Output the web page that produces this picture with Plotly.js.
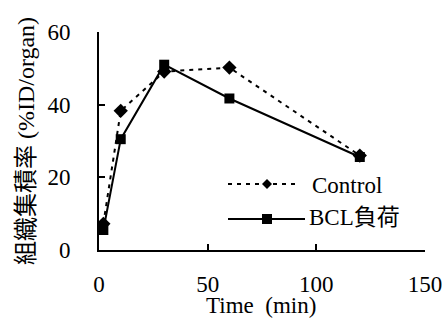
<!DOCTYPE html>
<html><head><meta charset="utf-8">
<script src="https://cdn.plot.ly/plotly-3.0.1.min.js"></script>
<style>html,body{margin:0;padding:0;background:#fff}#c{width:446px;height:327px}</style>
</head><body><div id="c"></div>
<script>
const time = [2, 10, 30, 60, 120];
const control = [7.2, 38.3, 49.1, 50.2, 26.0];
const bcl = [5.5, 30.5, 51.0, 41.7, 25.6];
const seriesNames = ["Control", "BCL負荷"];
const xTicks = [0, 50, 100, 150];
const yTicks = [0, 20, 40, 60];
const xTitle = "Time\u00a0 (min)";
const yTitle = "組織集積率 (%ID/organ)";

const FONT = "Liberation Serif, Noto Sans CJK JP";
const FS = 23;

const traces = [
  {x: time, y: control, name: seriesNames[0], mode: "lines+markers", showlegend: false,
   line: {color: "#000", width: 2, dash: "4px,5px"},
   marker: {symbol: "diamond", size: 11, color: "#000"}},
  {x: time, y: bcl, name: seriesNames[1], mode: "lines+markers", showlegend: false,
   line: {color: "#000", width: 2},
   marker: {symbol: "square", size: 10, color: "#000"}}
];

const W = 446, H = 327, L = 99, R = 21, T = 32, B = 77;
const pw = W - L - R, ph = H - T - B;
const px = v => (v - L) / pw;
const py = v => (H - B - v) / ph;

function diamondPath(cx, cy, r) {
  return `M ${px(cx)} ${py(cy - r)} L ${px(cx + r)} ${py(cy)} L ${px(cx)} ${py(cy + r)} L ${px(cx - r)} ${py(cy)} Z`;
}
const shapes = [
  {type: "line", xref: "paper", yref: "paper", x0: px(228), x1: px(298), y0: py(184), y1: py(184),
   line: {color: "#000", width: 2, dash: "4px,5px"}},
  {type: "path", xref: "paper", yref: "paper", path: diamondPath(267, 184, 5),
   fillcolor: "#000", line: {color: "#000", width: 0}},
  {type: "line", xref: "paper", yref: "paper", x0: px(228), x1: px(305), y0: py(219), y1: py(219),
   line: {color: "#000", width: 2}},
  {type: "rect", xref: "paper", yref: "paper", x0: px(262), x1: px(272), y0: py(214), y1: py(224),
   fillcolor: "#000", line: {color: "#000", width: 0}}
];
const annotations = [
  {xref: "paper", yref: "paper", x: px(310), y: py(185), xanchor: "left", yanchor: "middle",
   text: seriesNames[0], showarrow: false, font: {family: FONT, size: FS, color: "#000"}},
  {xref: "paper", yref: "paper", x: px(307), y: py(217), xanchor: "left", yanchor: "middle",
   text: seriesNames[1], showarrow: false, font: {family: FONT, size: FS, color: "#000"}},
  {xref: "paper", yref: "paper", x: px(261), y: py(305), xanchor: "center", yanchor: "middle",
   text: xTitle, showarrow: false, font: {family: FONT, size: FS, color: "#000"}}
];

const layout = {
  width: W, height: H,
  margin: {l: L, r: R, t: T, b: B, pad: 0},
  paper_bgcolor: "#fff", plot_bgcolor: "#fff",
  font: {family: FONT, size: FS, color: "#000"},
  showlegend: false,
  xaxis: {
    range: [0, 150], tickvals: xTicks, ticktext: xTicks.map(String),
    showgrid: false, zeroline: false, showline: true, linecolor: "#000", linewidth: 2,
    ticks: "inside", ticklen: 6, tickwidth: 2, tickcolor: "#000",
    ticklabelstandoff: 12,
    tickfont: {family: FONT, size: FS, color: "#000"},
    fixedrange: true
  },
  yaxis: {
    range: [0, 60], tickvals: yTicks, ticktext: yTicks.map(String),
    showgrid: false, zeroline: false, showline: true, linecolor: "#000", linewidth: 2,
    ticks: "inside", ticklen: 6, tickwidth: 2, tickcolor: "#000",
    ticklabelstandoff: 22,
    tickfont: {family: FONT, size: FS, color: "#000"},
    title: {text: yTitle, font: {family: FONT, size: 24, color: "#000"}, standoff: 6},
    fixedrange: true
  },
  shapes: shapes,
  annotations: annotations
};

Plotly.newPlot("c", traces, layout, {staticPlot: true, displayModeBar: false});
</script></body></html>
